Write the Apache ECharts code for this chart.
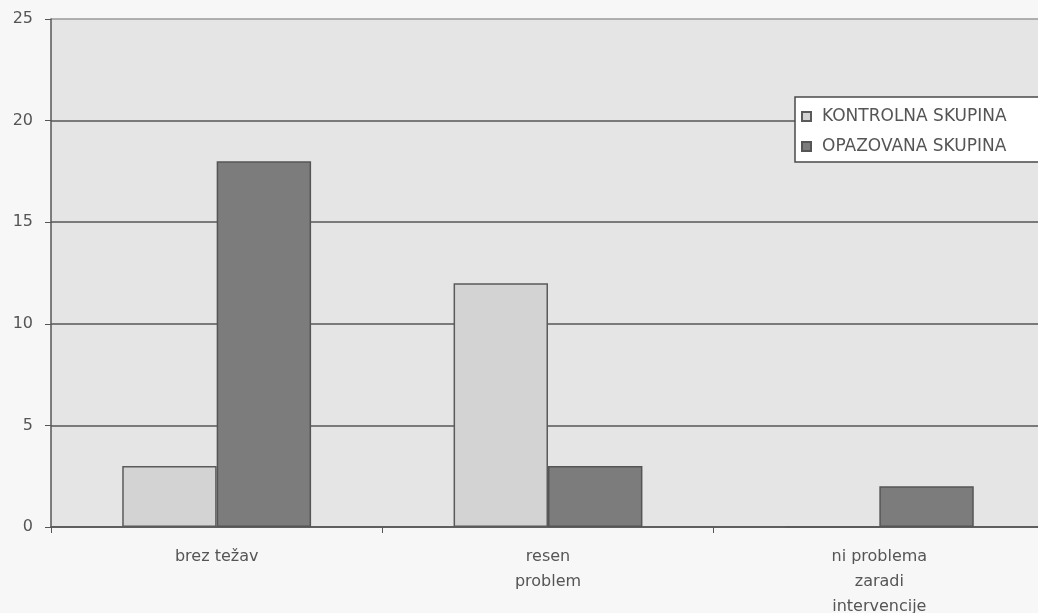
<!DOCTYPE html>
<html>
<head>
<meta charset="utf-8">
<script src="https://cdn.jsdelivr.net/npm/echarts@6/dist/echarts.min.js"></script>
<style>
  html, body { margin: 0; padding: 0; background: #f7f7f7; }
  #chart { width: 1038px; height: 613px; }
</style>
</head>
<body>
<div id="chart"></div>
<script>
// Categories along the x axis
const categories = ['brez težav', 'resen\nproblem', 'ni problema\nzaradi\nintervencije'];
// Counts per group
const kontrolna = [3, 12, 0];
const opazovana = [18, 3, 2];
// Series names shown in the legend
const seriesNames = ['KONTROLNA SKUPINA', 'OPAZOVANA SKUPINA'];
// Y axis scale
const yMin = 0, yMax = 25, yStep = 5;

const textColor = '#555';
const lineColor = '#565656';
const font = '"DejaVu Sans", Verdana, sans-serif';

const chart = echarts.init(document.getElementById('chart'), null, { renderer: 'canvas' });
chart.setOption({
  backgroundColor: '#f7f7f7',
  animation: false,
  grid: {
    left: 51, top: 19, right: -7, bottom: 86,
    outerBoundsMode: 'none',
    containLabel: false,
    show: true, backgroundColor: '#e5e5e5', borderWidth: 0
  },
  legend: {
    orient: 'vertical',
    left: 795, top: 97,
    backgroundColor: '#ffffff',
    borderColor: '#4a4a4a', borderWidth: 1.5,
    padding: [11, 80, 7, 6],
    itemGap: 13,
    itemWidth: 9, itemHeight: 9,
    icon: 'rect',
    textStyle: { color: textColor, fontSize: 17, fontFamily: font, padding: [0, 0, 0, 6] },
    data: seriesNames
  },
  xAxis: {
    type: 'category',
    data: categories,
    axisLine: { lineStyle: { color: lineColor, width: 1.5 } },
    axisTick: { show: true, length: 6, lineStyle: { color: lineColor } },
    axisLabel: { color: textColor, fontSize: 16, fontFamily: font, lineHeight: 25, margin: 17 },
    splitLine: { show: false }
  },
  yAxis: {
    type: 'value',
    min: yMin, max: yMax, interval: yStep,
    axisLine: { show: true, lineStyle: { color: lineColor, width: 1.5 } },
    axisTick: { show: true, length: 6, lineStyle: { color: lineColor } },
    axisLabel: { color: textColor, fontSize: 16, fontFamily: font, margin: 18 },
    splitLine: {
      show: true,
      lineStyle: { color: [lineColor, lineColor, lineColor, lineColor, lineColor, '#9a9a9a'], width: 1.5 }
    }
  },
  series: [
    {
      name: seriesNames[0], type: 'bar', data: kontrolna,
      barGap: '0%', barCategoryGap: '43%',
      itemStyle: { color: '#d3d3d3', borderColor: '#5a5a5a', borderWidth: 1.5 }
    },
    {
      name: seriesNames[1], type: 'bar', data: opazovana,
      barGap: '0%', barCategoryGap: '43%',
      itemStyle: { color: '#7c7c7c', borderColor: '#555', borderWidth: 1.5 }
    }
  ]
});
</script>
</body>
</html>
